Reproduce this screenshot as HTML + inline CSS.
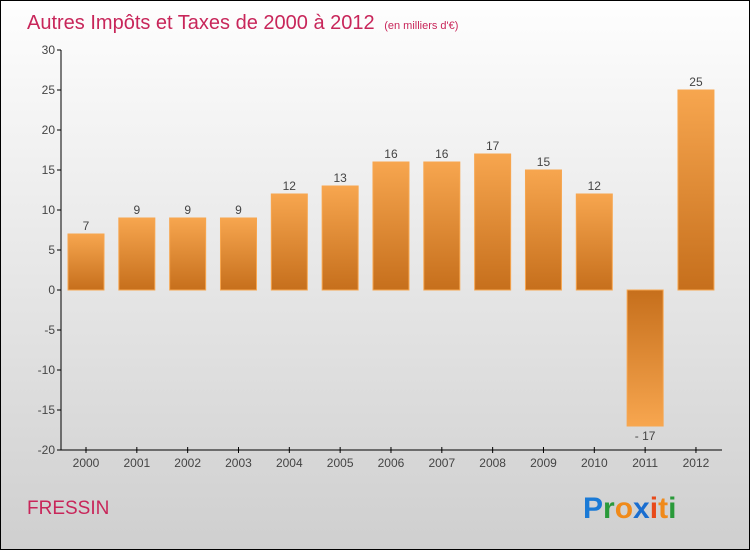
<!DOCTYPE html>
<html><head><meta charset="utf-8"><style>
body{margin:0}
#c{width:748px;height:548px;border:1px solid #000;background:linear-gradient(#fefefe,#f0f0f0 30%,#cfcfcf);position:relative;overflow:hidden;font-family:"Liberation Sans",sans-serif}
</style></head><body>
<div id="c">
<svg id="s" width="748" height="548">
<defs>
<linearGradient id="gp" x1="0" y1="0" x2="0" y2="1"><stop offset="0" stop-color="#f7a64f"/><stop offset="1" stop-color="#c66f1c"/></linearGradient>
<linearGradient id="gn" x1="0" y1="0" x2="0" y2="1"><stop offset="0" stop-color="#c66f1c"/><stop offset="1" stop-color="#f7a64f"/></linearGradient>
</defs>
<text x="26" y="28" font-size="20" fill="#c8265a">Autres Impôts et Taxes de 2000 à 2012 <tspan font-size="11" dx="4">(en milliers d'€)</tspan></text>
<text x="26" y="513" font-size="19" fill="#c8265a">FRESSIN</text>
<g font-size="30" font-weight="bold" font-family="Liberation Sans,sans-serif">
<text x="582" y="517"><tspan fill="#1a7ad6">P</tspan><tspan fill="#2a9a3a">r</tspan><tspan fill="#f08a1a">o</tspan><tspan fill="#1a6ed0">x</tspan><tspan fill="#e84a1a">i</tspan><tspan fill="#f08a1a">t</tspan><tspan fill="#2a9a3a">i</tspan></text>
</g>
<g id="g"></g>
</svg>
</div>
<script>
const years=["2000","2001","2002","2003","2004","2005","2006","2007","2008","2009","2010","2011","2012"];
const values=[7,9,9,9,12,13,16,16,17,15,12,-17,25];
const ticks=[30,25,20,15,10,5,0,-5,-10,-15,-20];
const ns="http://www.w3.org/2000/svg";
const g=document.getElementById('g');
const y=v=>289-(v)*8;
const x=i=>85+i*50.83;
function el(t,a,p){const e=document.createElementNS(ns,t);for(const k in a)e.setAttribute(k,a[k]);(p||g).appendChild(e);return e;}
let ax=el('line',{x1:60,y1:49,x2:60,y2:449,stroke:'#000'});


ticks.forEach(t=>{
 let l=el('line',{x1:56,x2:60,y1:y(t),y2:y(t),stroke:'#000'});
 
 
 let tx=el('text',{x:54,y:y(t)+4,'text-anchor':'end','font-size':12,fill:'#444'});
 tx.textContent=t;
 
 
});
let xa=el('line',{x1:60,y1:449,x2:721,y2:449,stroke:'#000'});


years.forEach((yr,i)=>{
 const v=values[i],cx=x(i);
 let b=el('rect',{x:cx-18,width:36,y:Math.min(y(v),y(0)),height:Math.abs(y(v)-y(0)),fill:v>=0?'url(#gp)':'url(#gn)',stroke:'#f7a64f','stroke-width':1});
 
 
 let vl=el('text',{x:cx,y:v>=0?y(v)-4:y(v)+14,'text-anchor':'middle','font-size':12,fill:'#444'});
 vl.textContent=v<0?'- '+Math.abs(v):v;
 
 
 let tk=el('line',{x1:cx,x2:cx,y1:446,y2:452,stroke:'#000'});
 
 
 let xl=el('text',{x:cx,y:466,'text-anchor':'middle','font-size':12,fill:'#444'});
 xl.textContent=yr;
 
 
});
</script>
</body></html>
